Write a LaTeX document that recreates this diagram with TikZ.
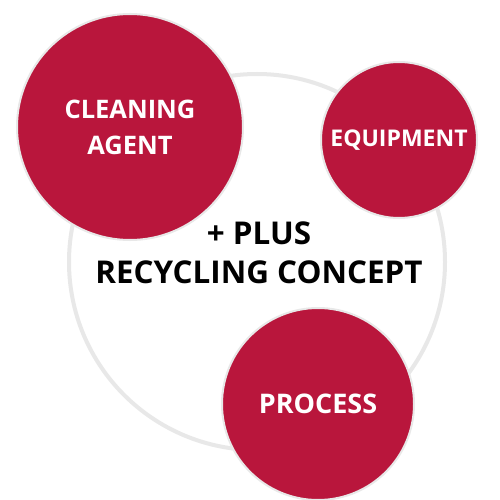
\documentclass[tikz,border=0pt]{standalone}
\usepackage{fontspec}
\setmainfont{Open Sans}
\definecolor{brandred}{RGB}{185,22,60}
\definecolor{ringgray}{RGB}{232,232,232}
\begin{document}
\begin{tikzpicture}[x=1pt,y=-1pt,
  redball/.style={circle,fill=brandred,draw=ringgray,line width=2pt,inner sep=0pt,
    text=white,align=center},
  centertext/.style={font=\bfseries\fontsize{31.4}{39}\selectfont,text=black,align=center}]
\useasboundingbox (0,0) rectangle (500,500);
\fill[white] (0,0) rectangle (500,500);
\node[circle,draw=ringgray,line width=4pt,minimum size=376pt,inner sep=0pt] (big) at (257,262) {};
\node[redball,minimum size=226pt,font=\bfseries\fontsize{25.5}{36}\selectfont] (agent) at (130,127) {CLEANING\\AGENT};
\node[redball,minimum size=156pt,font=\bfseries\fontsize{23}{30}\selectfont] (equip) at (399,140) {EQUIPMENT};
\node[redball,minimum size=192pt,font=\bfseries\fontsize{27}{34}\selectfont] (process) at (318,404) {PROCESS};
\node[centertext] (concept) at (259,253) {+ PLUS\\RECYCLING CONCEPT};
\end{tikzpicture}
\end{document}
